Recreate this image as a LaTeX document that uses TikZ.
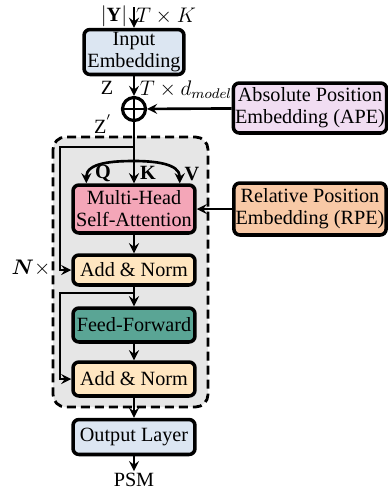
\documentclass[tikz,border=0pt]{standalone}
\usepackage{amsmath,bm}
\usepackage{fontspec}
\setmainfont{Liberation Serif}
\definecolor{embblue}{HTML}{DCE6F2}
\definecolor{apepink}{HTML}{F1DDF2}
\definecolor{attpink}{HTML}{F4A6B8}
\definecolor{rpepeach}{HTML}{F8C9A6}
\definecolor{normcream}{HTML}{FFE6C0}
\definecolor{ffteal}{HTML}{5AA595}
\definecolor{stackgray}{HTML}{E6E6E6}
\begin{document}
\begin{tikzpicture}[x=0.02cm,y=-0.02cm,>=stealth,
    font=\fontsize{11.5}{12.5}\selectfont,
    blk/.style={draw,line width=2pt,rounded corners=0.12cm,align=center,
      minimum width=2.44cm,inner sep=1pt},
    arr/.style={->,line width=1.5pt}]
  \def\mid{134}
  \def\resx{60}
  \useasboundingbox (0,0) rectangle (388,491);

  % encoder stack
  \draw[fill=stackgray,line width=1.6pt,dash pattern=on 0.18cm off 0.1cm,
    rounded corners=0.25cm] (53,137) rectangle (208,407);

  \node[blk,fill=embblue,minimum width=2cm,minimum height=0.9cm] (inp) at (\mid,52) {Input\\Embedding};
  \node[draw,circle,line width=1.8pt,minimum size=0.46cm,inner sep=0] (add) at (\mid,109) {};
  \draw[line width=1.6pt] (add.north) -- (add.south) (add.west) -- (add.east);
  \node[blk,fill=apepink,minimum width=3.02cm,minimum height=1cm] (ape) at (310,108) {Absolute Position\\Embedding (APE)};
  \node[blk,fill=attpink,minimum height=0.96cm] (mhsa) at (\mid,209) {Multi-Head\\Self-Attention};
  \node[blk,fill=rpepeach,minimum width=3.04cm,minimum height=1.04cm] (rpe) at (310,209) {Relative Position\\Embedding (RPE)};
  \node[blk,fill=normcream,minimum height=0.6cm] (an1) at (\mid,270) {Add \& Norm};
  \node[blk,fill=ffteal,minimum height=0.68cm] (ff) at (\mid,325) {Feed-Forward};
  \node[blk,fill=normcream,minimum height=0.68cm] (an2) at (\mid,379) {Add \& Norm};
  \node[blk,fill=embblue,minimum height=0.7cm] (out) at (\mid,437) {Output Layer};
  \node[inner sep=1pt] (psm) at (\mid,480) {PSM};

  \coordinate (top) at (\mid,7);
  \coordinate (res1) at (\mid,147);
  \coordinate (res1l) at (\resx,147);
  \coordinate (qkv) at (\mid,161);
  \coordinate (qin) at ([xshift=0.3cm]mhsa.north west);
  \coordinate (vin) at ([xshift=-0.34cm]mhsa.north east);
  \coordinate (res2) at (\mid,293);
  \coordinate (res2l) at (\resx,293);

  % labels
  \node (ysz) at (114,16) {$|\mathbf{Y}|$};
  \node (tk) at (166,16) {$T\times K$};
  \node (zlab) at (107,88) {Z};
  \node (tdm) at (186,90) {$T\times d_{model}$};
  \node (zp) at (103,124) {Z$^{'}$};
  \node (qlab) at (103,173) {$\mathbf{Q}$};
  \node (klab) at (148,173) {$\mathbf{K}$};
  \node (vlab) at (192,174) {$\mathbf{V}$};
  \node (nlab) at (31,268) {$\bm{N}\times$};

  % connectors
  \draw[arr] (top) -- (inp);
  \draw[arr] (inp) -- (add);
  \draw[arr] (ape) -- (add);
  \draw[arr] (add) -- (mhsa);
  \draw[arr] (qkv) to[out=180,in=90] (qin);
  \draw[arr] (qkv) to[out=0,in=90] (vin);
  \draw[arr] (res1) -- (res1l) |- (an1);
  \draw[arr] (rpe) -- (mhsa);
  \draw[arr] (mhsa) -- (an1);
  \draw[arr] (an1) -- (ff);
  \draw[arr] (res2) -- (res2l) |- (an2);
  \draw[arr] (ff) -- (an2);
  \draw[arr] (an2) -- (out);
  \draw[arr] (out) -- (psm);
\end{tikzpicture}
\end{document}
